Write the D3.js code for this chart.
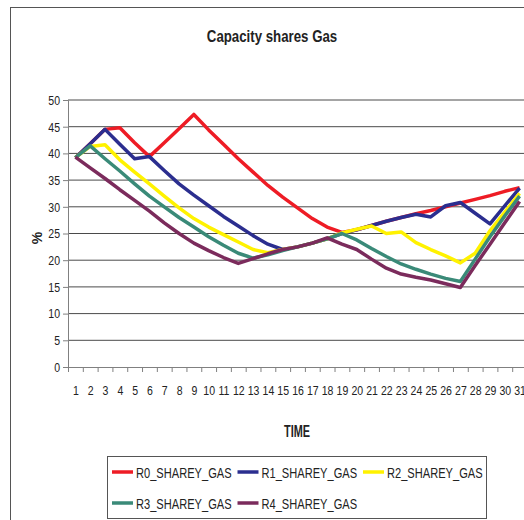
<!DOCTYPE html>
<html>
<head>
<meta charset="utf-8">
<script src="https://cdn.jsdelivr.net/npm/d3@7"></script>
<style>
  body { margin: 0; background: #fff; }
  svg { display: block; }
</style>
</head>
<body>
<svg id="chart"></svg>
<script>
const width = 524, height = 520;
const font = "'Liberation Sans', Arial, sans-serif";

// Data
const time = d3.range(1, 32);
const yTicks = [0, 5, 10, 15, 20, 25, 30, 35, 40, 45, 50];
const seriesNames = ["R0_SHAREY_GAS", "R1_SHAREY_GAS", "R2_SHAREY_GAS", "R3_SHAREY_GAS", "R4_SHAREY_GAS"];
const colors = ["#ee1c25", "#2b2e8f", "#fff200", "#3a8a78", "#7b2b5c"];

const r0 = [39.2, 41.8, 44.5, 44.8, 42.0, 39.4, 42.0, 44.6, 47.3, 44.4, 41.7, 39.0, 36.5, 34.0, 31.8, 29.8,
  27.8, 26.2, 25.2, 25.7, 26.5, 27.3, 28.0, 28.7, 29.3, 30.0, 30.7, 31.4, 32.1, 32.9, 33.6];
const r1 = [39.2, 41.8, 44.5, 41.7, 39.0, 39.4, 36.8, 34.3, 32.2, 30.2, 28.2, 26.4, 24.6, 23.0, 22.0, 22.5,
  23.2, 24.0, 25.0, 25.7, 26.5, 27.3, 28.0, 28.6, 28.1, 30.2, 30.8, 28.8, 26.8, 30.2, 33.5];
const r2 = [39.2, 41.3, 41.6, 38.8, 36.5, 34.3, 32.0, 29.8, 27.8, 26.2, 24.8, 23.4, 22.0, 21.4, 22.0, 22.5,
  23.2, 24.0, 25.1, 25.8, 26.4, 25.0, 25.3, 23.3, 22.0, 20.8, 19.5, 21.3, 25.5, 29.0, 32.5];
const r3 = [39.2, 41.4, 39.0, 36.7, 34.3, 32.0, 30.0, 28.0, 26.2, 24.4, 22.8, 21.3, 20.4, 21.0, 21.8, 22.5,
  23.2, 24.0, 25.0, 23.8, 22.2, 20.7, 19.3, 18.3, 17.4, 16.6, 16.0, 20.2, 24.4, 28.3, 32.0];
const r4 = [39.3, 37.3, 35.3, 33.2, 31.2, 29.2, 27.0, 25.0, 23.2, 21.8, 20.5, 19.4, 20.3, 21.2, 22.0, 22.5,
  23.2, 24.2, 23.0, 22.0, 20.2, 18.5, 17.4, 16.8, 16.3, 15.6, 14.9, 19.0, 23.0, 27.0, 31.0];
const seriesValues = [r0, r1, r2, r3, r4];

const margin = { top: 100, right: -3, bottom: 153, left: 68 };

const svg = d3.select("#chart")
  .attr("width", width)
  .attr("height", height)
  .attr("viewBox", [0, 0, width, height]);

// narrow text helper (the original uses a condensed face)
function label(g, tx, ty, sx, size, bold, txt, anchor) {
  return g.append("text")
    .attr("transform", `translate(${tx},${ty}) scale(${sx},1)`)
    .attr("text-anchor", anchor || "middle")
    .style("font-family", font)
    .style("font-size", size + "px")
    .style("font-weight", bold ? "bold" : "normal")
    .attr("fill", "#222")
    .text(txt);
}

// Outer frame
svg.append("rect")
  .attr("x", 10.5).attr("y", 7.5)
  .attr("width", 600).attr("height", 600)
  .attr("fill", "none")
  .attr("stroke", "#555");

// Scales
const x = d3.scaleLinear()
  .domain([0.5, 31.5])
  .range([margin.left, width - margin.right]);

const y = d3.scaleLinear()
  .domain([0, 50])
  .range([height - margin.bottom, margin.top]);

// Gridlines
svg.append("g")
  .selectAll("line")
  .data(yTicks.filter(d => d > 0))
  .join("line")
  .attr("x1", margin.left).attr("x2", width)
  .attr("y1", d => y(d)).attr("y2", d => y(d))
  .attr("stroke", "#4a4a4a")
  .attr("stroke-width", 1);

const tickSx = 0.78, tickSize = 13.5;

// Y axis
const yAxisG = svg.append("g")
  .attr("transform", `translate(${margin.left},0)`)
  .call(d3.axisLeft(y).tickValues(yTicks).tickSize(5).tickPadding(3));
yAxisG.selectAll("text")
  .attr("x", -8 / tickSx)
  .attr("transform", `scale(${tickSx},1)`)
  .style("font-family", font)
  .style("font-size", tickSize + "px")
  .attr("fill", "#222");

// X axis: tick marks between categories
svg.append("g")
  .attr("transform", `translate(0,${y(0)})`)
  .call(d3.axisBottom(x).tickValues(d3.range(0.5, 32, 1)).tickFormat("").tickSize(5));

// X axis labels
const xLabelG = svg.append("g")
  .attr("transform", `translate(0,${y(0)})`)
  .call(d3.axisBottom(x).tickValues(time).tickSize(0).tickPadding(18));
xLabelG.select(".domain").remove();
xLabelG.selectAll("text")
  .attr("transform", `scale(${tickSx},1)`)
  .style("font-family", font)
  .style("font-size", tickSize + "px")
  .attr("fill", "#222");

svg.selectAll(".domain").attr("stroke", "#808080");
svg.selectAll(".tick line").attr("stroke", "#808080");

// Series lines
const line = d3.line()
  .x((d, i) => x(time[i]))
  .y(d => y(d));

svg.append("g")
  .selectAll("path")
  .data(seriesValues)
  .join("path")
  .attr("d", line)
  .attr("fill", "none")
  .attr("stroke", (d, i) => colors[i])
  .attr("stroke-width", 3.5)
  .attr("stroke-linejoin", "round");

// Title and axis titles
label(svg, 272, 42, 0.78, 17, true, "Capacity shares Gas");
label(svg, 297, 437, 0.68, 16, true, "TIME");
svg.append("text")
  .attr("transform", "translate(42,238) rotate(-90)")
  .attr("text-anchor", "middle")
  .style("font-family", font)
  .style("font-size", "14px")
  .style("font-weight", "bold")
  .attr("fill", "#222")
  .text("%");

// Legend
const legend = svg.append("g");
legend.append("rect")
  .attr("x", 107.5).attr("y", 456.5)
  .attr("width", 379).attr("height", 62)
  .attr("fill", "none")
  .attr("stroke", "#555");

const legendItems = legend.selectAll("g")
  .data(seriesNames)
  .join("g")
  .attr("transform", (d, i) => `translate(${112 + (i % 3) * 125.5},${i < 3 ? 472 : 503})`);

legendItems.append("line")
  .attr("x1", 0).attr("x2", 21)
  .attr("stroke", (d, i) => colors[i])
  .attr("stroke-width", 3.5);

legendItems.each(function (d) {
  label(d3.select(this), 24, 5.5, 0.74, 15, false, d, "start");
});
</script>
</body>
</html>
